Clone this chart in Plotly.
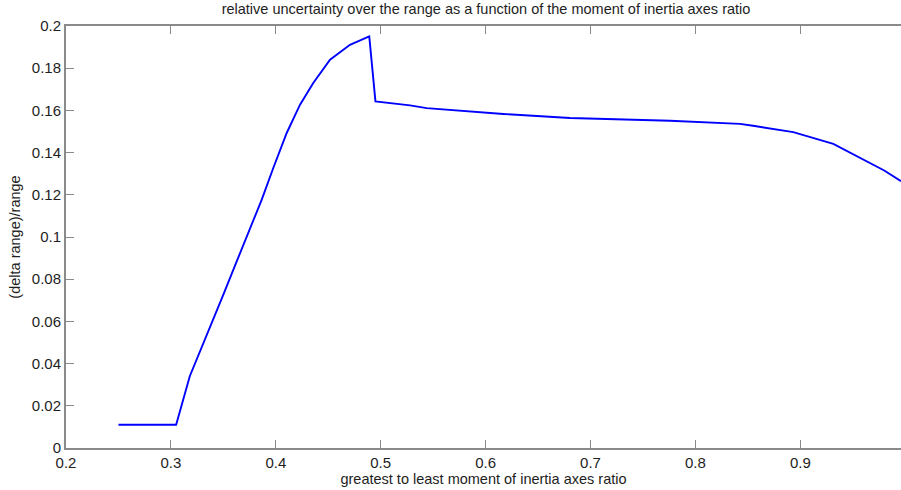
import plotly.graph_objects as go

# moment of inertia axes ratio (greatest to least)
ratio = [0.25, 0.305, 0.318, 0.3325, 0.350, 0.361, 0.374, 0.3866, 0.3976, 0.4104,
         0.4231, 0.4357, 0.4517, 0.4707, 0.4891, 0.4950, 0.528, 0.5438, 0.6169,
         0.6805, 0.7758, 0.8235, 0.8425, 0.855, 0.8933, 0.9315, 0.9583, 0.98, 0.996]

# relative uncertainty (delta range)/range
rel_unc = [0.011, 0.011, 0.034, 0.0513, 0.0727, 0.0863, 0.102, 0.1177, 0.1327, 0.1493,
           0.1627, 0.1730, 0.1840, 0.1911, 0.1951, 0.1643, 0.1624, 0.1611, 0.1583,
           0.1564, 0.1551, 0.1541, 0.1536, 0.1527, 0.1497, 0.1441, 0.1372, 0.1315, 0.1265]

x_ticks = [0.2, 0.3, 0.4, 0.5, 0.6, 0.7, 0.8, 0.9]
x_labels = ["0.2", "0.3", "0.4", "0.5", "0.6", "0.7", "0.8", "0.9"]
y_ticks = [0, 0.02, 0.04, 0.06, 0.08, 0.1, 0.12, 0.14, 0.16, 0.18, 0.2]
y_labels = ["0", "0.02", "0.04", "0.06", "0.08", "0.1", "0.12", "0.14", "0.16", "0.18", "0.2"]

FONT = "Liberation Sans, Arial, sans-serif"
TXT = "#1e1e1e"
AX = "#8a8a8a"

fig = go.Figure()
fig.add_trace(go.Scatter(x=ratio, y=rel_unc, mode="lines",
                         line=dict(color="#0000ff", width=1.9), showlegend=False,
                         hoverinfo="skip"))

fig.update_layout(
    width=901, height=490,
    margin=dict(l=66, r=0, t=26, b=42),
    paper_bgcolor="white", plot_bgcolor="white",
    font=dict(family=FONT, color=TXT, size=15),
    title=dict(text="relative uncertainty over the range as a function of the moment of inertia axes ratio",
               x=486 / 901, xref="container", xanchor="center",
               y=1 - 9 / 490, yref="container", yanchor="middle",
               font=dict(family=FONT, size=14.5, color=TXT)),
    xaxis=dict(range=[0.2, 0.996], tickvals=x_ticks, ticktext=x_labels,
               ticks="inside", ticklen=8, tickcolor=AX, tickwidth=1.3,
               showline=True, linecolor=AX, linewidth=2, mirror="ticks",
               showgrid=False, zeroline=False,
               tickfont=dict(size=15, color=TXT),
               title=dict(text="greatest to least moment of inertia axes ratio",
                          font=dict(size=14.5, color=TXT), standoff=3)),
    yaxis=dict(range=[0, 0.2], tickvals=y_ticks, ticktext=y_labels,
               ticks="inside", ticklen=8, tickcolor=AX, tickwidth=1.3,
               showline=True, linecolor=AX, linewidth=2, mirror=False,
               showgrid=False, zeroline=False,
               tickfont=dict(size=15, color=TXT),
               title=dict(text="(delta range)/range",
                          font=dict(size=14.5, color=TXT), standoff=8)),
    yaxis2=dict(range=[0, 0.2], tickvals=y_ticks, overlaying="y", side="right",
                ticks="inside", ticklen=4, tickcolor=AX, tickwidth=1.3,
                showline=False, showgrid=False, zeroline=False,
                showticklabels=False),
)

fig.write_html("out.html")
